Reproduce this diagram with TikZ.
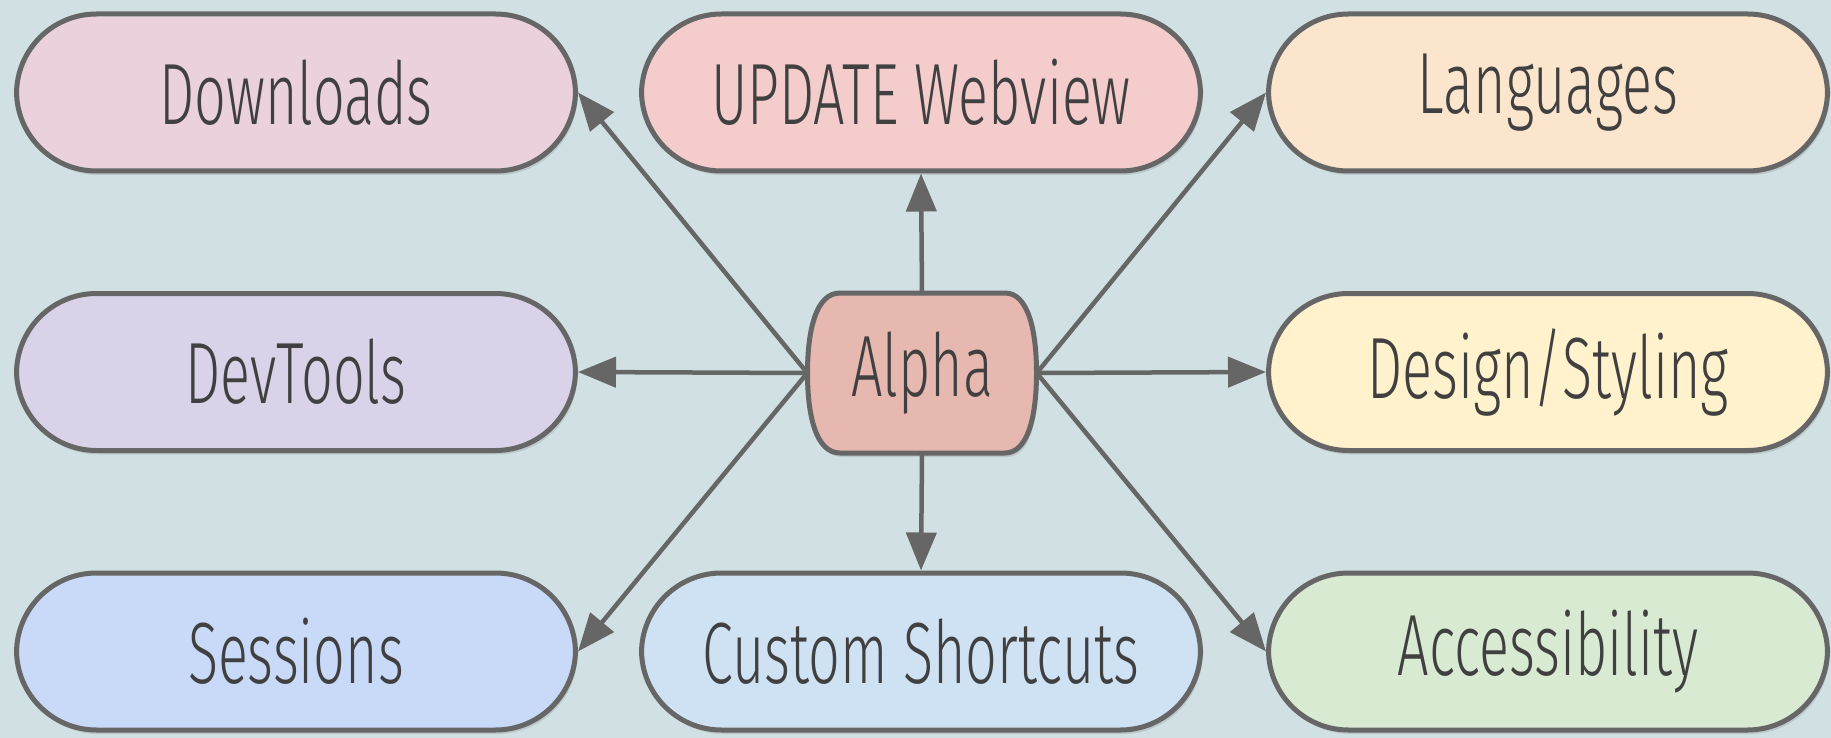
\documentclass[tikz,border=0pt]{standalone}
\usepackage{fontspec}
\setmainfont{Fira Sans}[UprightFont={* Light},FakeStretch=0.64]
\usetikzlibrary{arrows.meta,shadows}
\definecolor{bg}{HTML}{D0E0E3}
\definecolor{strk}{HTML}{666666}
\definecolor{txt}{HTML}{404040}
\definecolor{cdl}{HTML}{EAD1DC}
\definecolor{cup}{HTML}{F4CCCC}
\definecolor{cla}{HTML}{FCE5CD}
\definecolor{cdt}{HTML}{D9D2E9}
\definecolor{cds}{HTML}{FFF2CC}
\definecolor{cse}{HTML}{C9DAF8}
\definecolor{ccs}{HTML}{CFE2F3}
\definecolor{cac}{HTML}{D9EAD3}
\definecolor{cal}{HTML}{E6B8AF}
\tikzset{
  pill/.style={rectangle, rounded corners=80pt, minimum width=559pt, minimum height=157pt,
    draw=strk, line width=5pt, text=txt, inner sep=0pt,
    font=\fontsize{87}{100}\selectfont,
    drop shadow={opacity=0.25, shadow xshift=2pt, shadow yshift=-4pt}},
  arr/.style={draw=strk, line width=4.5pt, -{Triangle[length=38pt,width=30pt]}},
}
\begin{document}
\begin{tikzpicture}[x=1pt,y=-1pt]
\useasboundingbox (0,0) rectangle (1831,738);
\fill[bg] (0,0) rectangle (1831,738);
\node[pill, fill=cdl] (dl) at (296,92.5) {Downloads};
\node[pill, fill=cup] (up) at (921,92.5) {UPDATE Webview};
\node[pill, fill=cla] (la) at (1548,92.5) {Languages};
\node[pill, fill=cdt] (dt) at (296,372) {DevTools};
\node[pill, fill=cds] (ds) at (1548,372) {Design/Styling};
\node[pill, fill=cse] (se) at (296,651.5) {Sessions};
\node[pill, fill=ccs] (cs) at (921,651.5) {Custom Shortcuts};
\node[pill, fill=cac] (ac) at (1548,651.5) {Accessibility};
\path[draw=strk, line width=5pt, fill=cal, drop shadow={opacity=0.25, shadow xshift=2pt, shadow yshift=-4pt}]
  (840,293) -- (1005,293) .. controls (1028,293) and (1036.5,330) .. (1036.5,373)
  .. controls (1036.5,416) and (1028,453) .. (1005,453) -- (840,453)
  .. controls (816,453) and (807.5,416) .. (807.5,373)
  .. controls (807.5,330) and (816,293) .. (840,293) -- cycle;
\node[rectangle, minimum width=229pt, minimum height=160pt, inner sep=0pt, text=txt,
  font=\fontsize{87}{100}\selectfont] (al) at (922,373) {Alpha};
\draw[arr] (al.west) -- (dl.east);
\draw[arr] (al.west) -- (dt.east);
\draw[arr] (al.west) -- (se.east);
\draw[arr] (al.east) -- (la.west);
\draw[arr] (al.east) -- (ds.west);
\draw[arr] (al.east) -- (ac.west);
\draw[arr] (al.north) -- (up.south);
\draw[arr] (al.south) -- (cs.north);
\end{tikzpicture}
\end{document}
